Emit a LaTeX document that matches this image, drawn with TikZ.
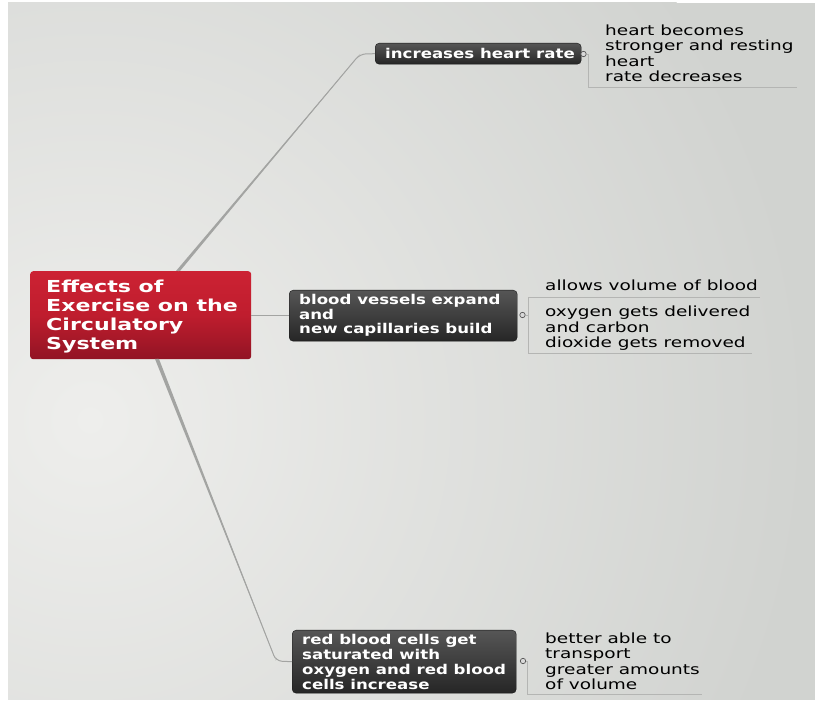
\documentclass[tikz,border=0pt]{standalone}
\usepackage{fontspec}
\setmainfont{DejaVu Sans}
\newfontfamily\rootf[FakeStretch=1.34]{DejaVu Sans Bold}
\newfontfamily\boldf[FakeStretch=1.23]{DejaVu Sans Bold}
\newfontfamily\regf[FakeStretch=1.32]{DejaVu Sans}
\usetikzlibrary{calc}
\definecolor{bgA}{HTML}{EEEEEC}
\definecolor{bgB}{HTML}{D1D3D0}
\definecolor{conn}{HTML}{A3A4A2}
\definecolor{thin}{HTML}{B4B5B3}
\definecolor{redT}{HTML}{CC2233}
\definecolor{redM}{HTML}{BF1D2E}
\definecolor{redB}{HTML}{921424}
\definecolor{darkT}{HTML}{565656}
\definecolor{darkB}{HTML}{262626}
\begin{document}
\begin{tikzpicture}[x=1pt,y=-1pt,
  rootbox/.style={draw=none, rounded corners=3pt, top color=redT, bottom color=redB, middle color=redM, inner sep=0pt, anchor=north west},
  darkbox/.style={draw=darkB!60!black, line width=0.4pt, rounded corners=4pt, top color=darkT, bottom color=darkB, inner sep=0pt, anchor=north west},
  roottext/.style={text=white, font=\rootf\fontsize{16.5}{19}\selectfont, align=left, inner sep=0pt, anchor=base west},
  boxtext/.style={text=white, font=\boldf\fontsize{13.5}{14.7}\selectfont, align=left, inner sep=0pt, anchor=base west},
  leaftext/.style={text=black, font=\regf\fontsize{14}{15.6}\selectfont, align=left, inner sep=0pt, anchor=base west},
  knob/.style={circle, draw=black!65, fill=white!85!black, line width=0.7pt, inner sep=0pt, minimum size=5.4pt},
  branch/.style={draw=conn, line width=1pt, rounded corners=6pt},
  leafline/.style={draw=thin, line width=0.7pt},
]
\useasboundingbox (0,0) rectangle (815,708);
% background
\fill[white] (0,0) rectangle (815,708);
\begin{scope}
\clip (8,3) rectangle (815,700);
\fill[bgB] (8,3) rectangle (815,700);
\shade[inner color=bgA, outer color=bgB] (90,420) circle (720);
\end{scope}

% root
\node[rootbox, minimum width=221pt, minimum height=88pt] (root) at (30,271) {};
\node[roottext] (roott) at (46,350) {Effects of\\Exercise on the\\Circulatory\\System};

% branch boxes
\node[darkbox, minimum width=206pt, minimum height=21pt] (b1) at (375,43) {};
\node[boxtext] (b1t) at (385,59) {increases heart rate};
\node[darkbox, minimum width=228pt, minimum height=51pt] (b2) at (289,290) {};
\node[boxtext] (b2t) at (299,334) {blood vessels expand\\and\\new capillaries build};
\node[darkbox, minimum width=224pt, minimum height=63pt] (b3) at (292,630) {};
\node[boxtext] (b3t) at (302,689) {red blood cells get\\saturated with\\oxygen and red blood\\cells increase};

% knobs
\node[knob] (k1) at (583.5,54) {};
\node[knob] (k2) at (522.5,315) {};
\node[knob] (k3) at (523,661) {};

% leaves
\node[leaftext] (l1) at (605,82) {heart becomes\\stronger and resting\\heart\\rate decreases};
\node[leaftext] (l2) at (545,291) {allows volume of blood};
\node[leaftext] (l3) at (545,348) {oxygen gets delivered\\and carbon\\dioxide gets removed};
\node[leaftext] (l4) at (545,690) {better able to\\transport\\greater amounts\\of volume};

% branch connectors (tapered)
\coordinate (r1) at (178,271);
\coordinate (c1) at (360,54);
\fill[conn] ($(r1)+(-2,0)$) -- ($(r1)+(2,0)$) -- (c1) -- cycle;
\draw[branch] (r1) -- (c1) -- (b1.west);
\draw[branch, line width=0.7pt] (root.east |- b2.west) -- (b2.west);
\coordinate (r3) at (157,359);
\coordinate (c3) at (276,661);
\fill[conn] ($(r3)+(-2,0)$) -- ($(r3)+(2,0)$) -- (c3) -- cycle;
\draw[branch] (r3) -- (c3) -- (b3.west);

% leaf connectors
\coordinate (v1) at (588,54);
\coordinate (e1) at (797,87);
\draw[leafline] (k1.east) -- (v1) -- (v1 |- e1) -- (e1);
\coordinate (v2) at (528,315);
\coordinate (e2a) at (760,297);
\coordinate (e2b) at (752,353);
\draw[leafline] (k2.east) -- (v2);
\draw[leafline] (e2a) -- (v2 |- e2a) -- (v2 |- e2b) -- (e2b);
\coordinate (v3) at (527,661);
\coordinate (e3) at (702,694);
\draw[leafline] (k3.east) -- (v3) -- (v3 |- e3) -- (e3);
\end{tikzpicture}
\end{document}
